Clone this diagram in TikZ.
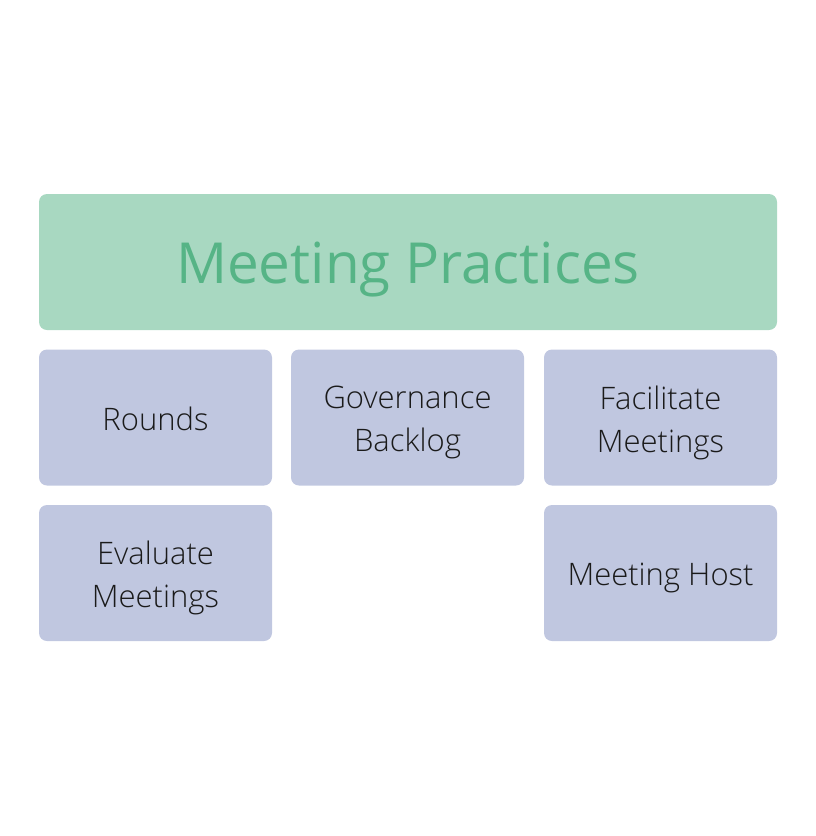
\documentclass[tikz,border=0pt]{standalone}
\usepackage{fontspec}
\setmainfont{Open Sans}[UprightFont=* Light]
\newfontfamily\headfont{Open Sans}
\definecolor{headfill}{HTML}{A8D8C1}
\definecolor{headtext}{HTML}{56B486}
\definecolor{itemfill}{HTML}{C0C7E0}
\definecolor{itemtext}{HTML}{1A1A1A}
\tikzset{
  headbox/.style={fill=headfill, rounded corners=8pt, minimum width=738pt, minimum height=136pt,
    inner sep=0pt},
  headlabel/.style={text=headtext, font=\headfont\fontsize{56.6}{66}\selectfont, inner sep=0pt},
  itembox/.style={fill=itemfill, rounded corners=8pt, minimum width=233pt, minimum height=136pt,
    inner sep=0pt},
  itemlabel/.style={text=itemtext, align=center, font=\fontsize{31}{43}\selectfont, inner sep=0pt},
}
\begin{document}
\begin{tikzpicture}[x=1pt,y=-1pt]
  \useasboundingbox (0,0) rectangle (816,836);
  % title bar
  \node[headbox] (head) at (408,262) {};
  \node[headlabel] (headtxt) at ([yshift=-8pt]head.center) {Meeting Practices};
  % practice tiles
  \node[itembox] (rounds) at (155.5,417.5) {};
  \node[itembox] (backlog) at (407.5,417.5) {};
  \node[itembox] (facilitate) at (660.5,417.5) {};
  \node[itembox] (evaluate) at (155.5,573) {};
  \node[itembox] (host) at (660.5,573) {};
  \node[itemlabel] (roundstxt) at ([yshift=-1pt]rounds.center) {Rounds};
  \node[itemlabel] (backlogtxt) at ([yshift=-5pt]backlog.center) {Governance\\Backlog};
  \node[itemlabel] (facilitatetxt) at ([yshift=-5pt]facilitate.center) {Facilitate\\Meetings};
  \node[itemlabel] (evaluatetxt) at ([yshift=-5pt]evaluate.center) {Evaluate\\Meetings};
  \node[itemlabel] (hosttxt) at ([yshift=-5pt]host.center) {Meeting Host};
\end{tikzpicture}
\end{document}
